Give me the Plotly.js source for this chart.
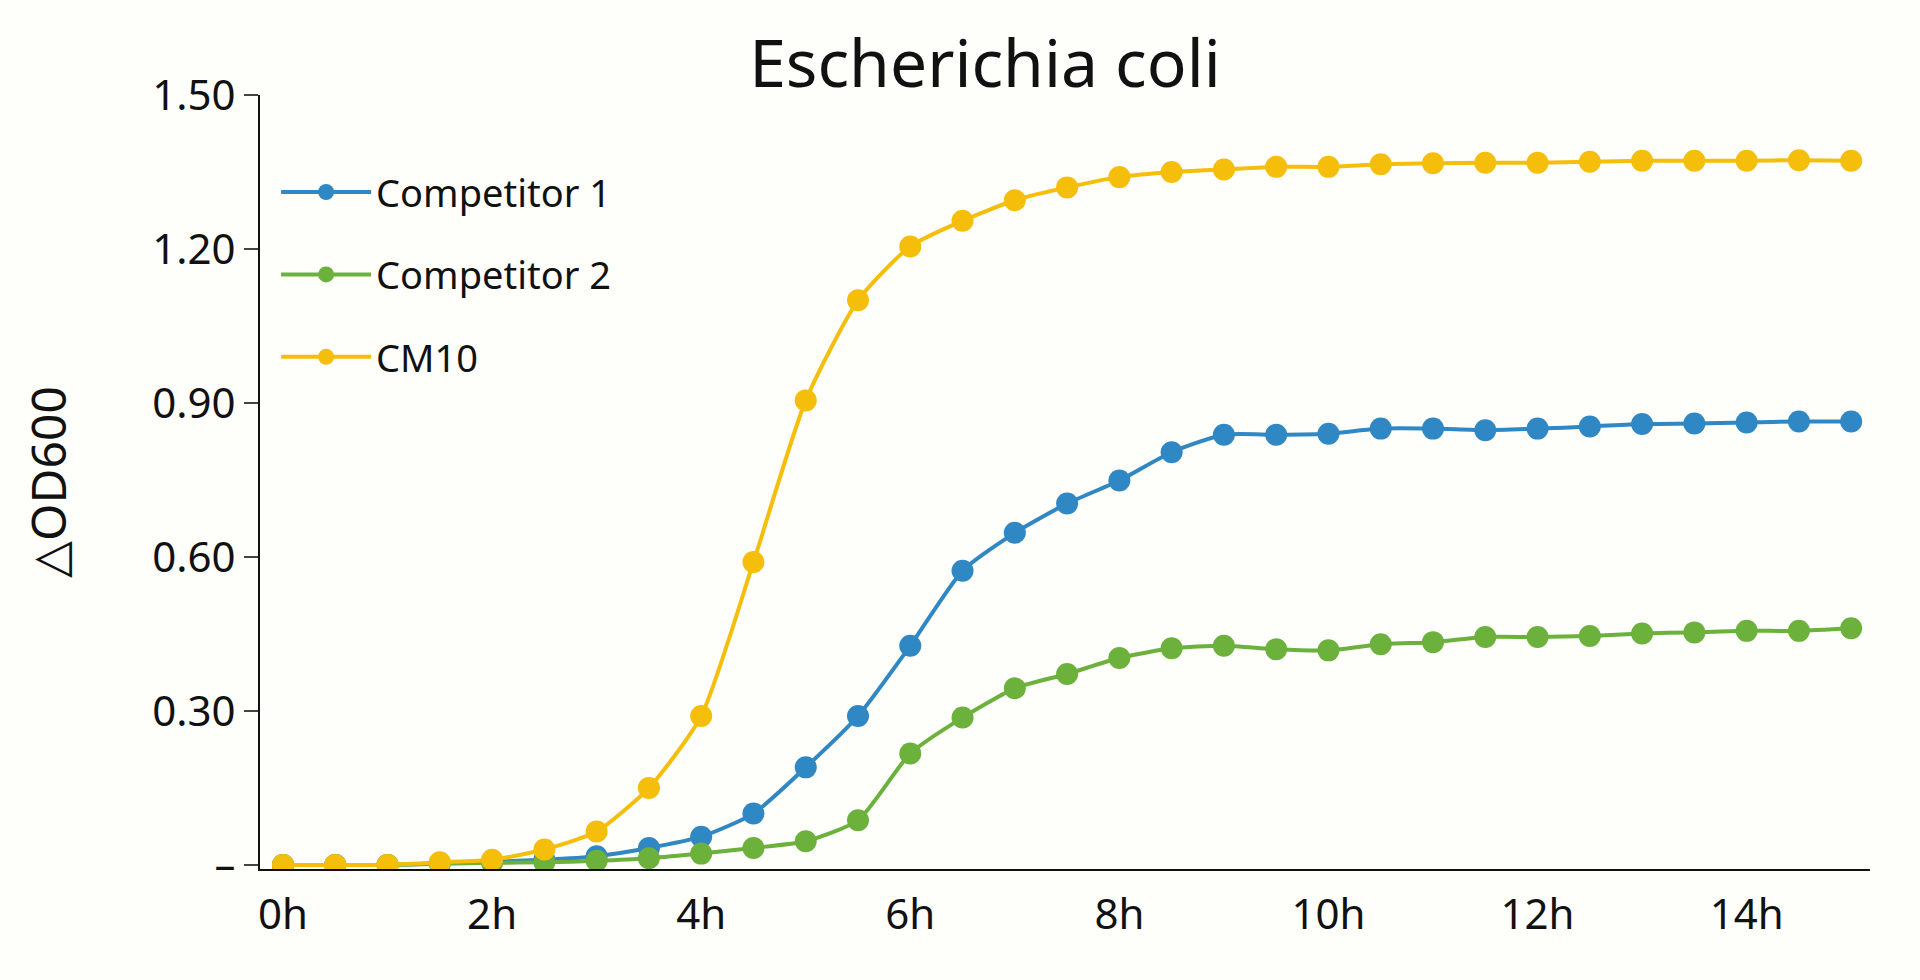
<!DOCTYPE html>
<html>
<head>
<meta charset="utf-8">
<script src="https://cdn.plot.ly/plotly-3.0.1.min.js"></script>
<style>html,body{margin:0;padding:0;background:#fefefb;}#chart{width:1920px;height:980px;}</style>
</head>
<body>
<div id="chart"></div>
<script>
// time points (hours), every half hour
var hours = [0,0.5,1,1.5,2,2.5,3,3.5,4,4.5,5,5.5,6,6.5,7,7.5,8,8.5,9,9.5,10,10.5,11,11.5,12,12.5,13,13.5,14,14.5,15];

var competitor1 = [0,0,0,0.003,0.006,0.01,0.017,0.033,0.055,0.10,0.19,0.29,0.427,0.573,0.647,0.704,0.749,0.804,0.838,0.838,0.84,0.85,0.85,0.847,0.85,0.854,0.859,0.86,0.862,0.864,0.864];
var competitor2 = [0,0,0,0.002,0.004,0.005,0.008,0.013,0.022,0.033,0.046,0.087,0.217,0.287,0.344,0.372,0.403,0.422,0.427,0.42,0.418,0.43,0.434,0.444,0.444,0.446,0.451,0.453,0.456,0.456,0.461];
var cm10 = [0,0,0,0.005,0.01,0.03,0.065,0.15,0.29,0.59,0.905,1.10,1.205,1.255,1.295,1.32,1.34,1.35,1.355,1.36,1.36,1.365,1.367,1.368,1.368,1.37,1.372,1.372,1.372,1.373,1.372];

var xTickVals = [0,2,4,6,8,10,12,14];
var xTickText = ['0h','2h','4h','6h','8h','10h','12h','14h'];
var yTickVals = [0,0.3,0.6,0.9,1.2,1.5];
var yTickText = ['–','0.30','0.60','0.90','1.20','1.50'];

function series(name, y, color) {
  return {
    x: hours, y: y, name: name, legendgroup: name, mode: 'lines+markers',
    line: {color: color, width: 4, shape: 'spline', smoothing: 0.6},
    marker: {color: color, size: 22}
  };
}

var data = [
  series('Competitor 1', competitor1, '#2f87c4'),
  series('Competitor 2', competitor2, '#6bb13c'),
  series('CM10', cm10, '#f5be0b')
];

var layout = {
  width: 1920, height: 980,
  paper_bgcolor: '#fefefb', plot_bgcolor: '#fefefb',
  font: {family: 'Noto Sans, DejaVu Sans, sans-serif', color: '#111', size: 42},
  margin: {l: 260, r: 50, t: 95, b: 111},
  title: {text: 'Escherichia coli', font: {size: 66}, x: 0.513, xanchor: 'center', y: 0.935, yanchor: 'middle'},
  showlegend: true,
  legend: {x: 0.01, y: 0.915, xanchor: 'left', yanchor: 'top', font: {size: 38}, bgcolor: 'rgba(0,0,0,0)', itemwidth: 90, tracegroupgap: 30},
  xaxis: {
    range: [-0.22, 15.18], tickvals: xTickVals, ticktext: xTickText,
    showline: true, linecolor: '#111', linewidth: 2, showgrid: false, zeroline: false,
    ticks: 'outside', ticklen: 8, tickcolor: 'rgba(0,0,0,0)'
  },
  yaxis: {
    range: [-0.008, 1.5], tickvals: yTickVals, ticktext: yTickText,
    showline: true, linecolor: '#111', linewidth: 2, showgrid: false, zeroline: false,
    ticks: 'outside', ticklen: 14, tickwidth: 2,
    title: {text: '△OD600', font: {size: 48}, standoff: 70}
  }
};

Plotly.newPlot('chart', data, layout, {displayModeBar: false});
</script>
</body>
</html>
